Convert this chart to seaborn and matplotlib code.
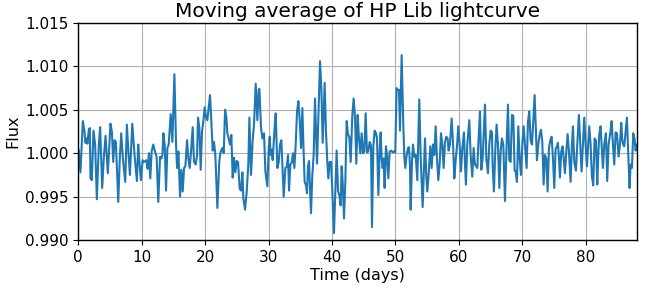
import matplotlib
matplotlib.use("Agg")
import matplotlib.pyplot as plt
import seaborn as sns
import pandas as pd

# moving-average lightcurve (time in days, relative flux)
time_days = [
    0.10, 0.37, 0.74, 1.00, 1.16, 1.32, 1.47, 1.68, 1.84, 1.95, 2.16, 2.42, 2.68, 2.95,
    3.26, 3.47, 3.79, 4.05, 4.32, 4.68, 5.10, 5.32, 5.53, 5.74, 5.95, 6.32, 6.58, 6.79,
    7.05, 7.42, 7.68, 7.95, 8.16, 8.53, 8.89, 9.26, 9.47, 9.68, 9.89, 10.16, 10.37, 10.58,
    10.74, 10.95, 11.16, 11.37, 11.58, 11.84, 12.10, 12.37, 12.63, 12.91, 13.12, 13.28,
    13.43, 13.64, 13.85, 14.06, 14.27, 14.59, 14.85, 15.17, 15.43, 15.59, 15.80, 16.06,
    16.27, 16.48, 16.69, 16.90, 17.16, 17.37, 17.58, 17.79, 18.05, 18.26, 18.53, 18.74,
    18.89, 19.10, 19.31, 19.52, 19.73, 19.94, 20.15, 20.36, 20.78, 20.99, 21.20, 21.41,
    21.62, 21.94, 22.25, 22.46, 22.73, 22.94, 23.15, 23.36, 23.51, 23.72, 23.93, 24.14,
    24.35, 24.56, 24.77, 24.98, 25.19, 25.46, 25.67, 25.88, 26.03, 26.30, 26.56, 26.82,
    26.98, 27.24, 27.50, 27.71, 27.98, 28.24, 28.45, 28.56, 28.82, 29.03, 29.29, 29.50,
    29.81, 30.02, 30.18, 30.34, 30.50, 30.65, 30.92, 31.13, 31.39, 31.60, 31.81, 32.02,
    32.39, 32.65, 32.86, 33.07, 33.23, 33.44, 33.65, 33.86, 34.07, 34.28, 34.49, 34.70,
    34.91, 35.12, 35.33, 35.49, 35.69, 35.90, 36.06, 36.22, 36.38, 36.69, 36.90, 37.11,
    37.32, 37.64, 38.11, 38.32, 38.53, 38.84, 39.05, 39.26, 39.42, 39.63, 39.84, 40.05,
    40.31, 40.58, 40.73, 40.95, 41.15, 41.36, 41.52, 41.68, 41.89, 42.10, 42.31, 42.52,
    42.73, 42.94, 43.20, 43.41, 43.62, 43.83, 44.04, 44.25, 44.46, 44.67, 44.88, 45.09,
    45.30, 45.51, 45.72, 45.93, 46.14, 46.30, 46.51, 46.72, 46.93, 47.09, 47.30, 47.51,
    47.66, 47.82, 47.98, 48.13, 48.29, 48.50, 48.66, 48.87, 49.08, 49.34, 49.55, 49.76,
    49.97, 50.18, 50.31, 50.55, 50.71, 50.97, 51.23, 51.39, 51.55, 51.76, 51.97, 52.13,
    52.28, 52.39, 52.60, 52.76, 52.97, 53.18, 53.44, 53.75, 53.96, 54.28, 54.65, 54.86,
    55.01, 55.22, 55.49, 55.70, 55.91, 56.12, 56.33, 56.54, 56.75, 56.96, 57.17, 57.38,
    57.59, 57.80, 58.01, 58.22, 58.37, 58.58, 58.85, 59.06, 59.27, 59.48, 59.69, 59.90,
    60.11, 60.32, 60.53, 60.79, 60.95, 61.10, 61.31, 61.63, 61.84, 62.10, 62.31, 62.52,
    62.73, 62.89, 63.05, 63.31, 63.52, 63.73, 64.10, 64.31, 64.57, 64.78, 64.99, 65.20,
    65.30, 65.51, 65.72, 65.93, 66.15, 66.36, 66.57, 66.77, 66.99, 67.25, 67.46, 67.72,
    67.93, 68.14, 68.35, 68.56, 68.77, 68.93, 69.14, 69.35, 69.56, 69.77, 69.98, 70.19,
    70.40, 70.66, 70.87, 71.08, 71.29, 71.50, 71.71, 71.92, 72.13, 72.29, 72.50, 72.71,
    72.92, 73.13, 73.34, 73.55, 73.76, 73.97, 74.18, 74.39, 74.60, 74.81, 75.02, 75.23,
    75.44, 75.59, 75.75, 75.91, 76.12, 76.33, 76.49, 76.70, 76.91, 77.12, 77.33, 77.59,
    77.80, 77.96, 78.17, 78.43, 78.64, 78.90, 79.11, 79.32, 79.53, 79.74, 79.95, 80.16,
    80.37, 80.53, 80.74, 80.95, 81.16, 81.37, 81.58, 81.79, 81.95, 82.10, 82.31, 82.47,
    82.68, 82.89, 83.15, 83.36, 83.57, 83.84, 84.05, 84.26, 84.47, 84.68, 84.89, 85.15,
    85.36, 85.57, 85.73, 85.88, 86.04, 86.25, 86.46, 86.67, 86.88, 87.04, 87.25, 87.46,
    87.67, 87.83, 88.00,
]
flux = [
    1.0004, 0.9978, 1.0037, 1.0025, 1.0012, 1.0017, 1.0011, 1.0027, 1.0029, 0.9971, 0.9969, 1.0026, 1.0010, 0.9947,
    1.0010, 1.0030, 0.9960, 0.9995, 1.0020, 0.9977, 1.0034, 1.0025, 0.9990, 1.0015, 1.0013, 0.9944, 0.9996, 1.0023,
    0.9994, 0.9967, 1.0033, 0.9998, 0.9975, 1.0034, 0.9998, 0.9968, 1.0010, 0.9988, 0.9969, 0.9992, 0.9990, 0.9991,
    0.9992, 0.9982, 1.0000, 0.9971, 1.0002, 1.0010, 1.0002, 0.9996, 0.9944, 0.9996, 0.9994, 0.9998,
    1.0023, 1.0010, 0.9957, 1.0006, 1.0010, 1.0045, 1.0013, 1.0091, 1.0010, 0.9983, 1.0002, 0.9950,
    0.9981, 0.9956, 0.9983, 0.9985, 1.0015, 0.9994, 0.9983, 1.0002, 1.0030, 0.9990, 0.9987, 0.9998,
    1.0041, 1.0029, 0.9981, 1.0025, 1.0037, 1.0053, 1.0041, 1.0038, 1.0067, 1.0037, 1.0003, 1.0013,
    0.9998, 0.9937, 0.9992, 1.0002, 1.0006, 1.0000, 1.0050, 1.0041, 1.0023, 1.0017, 1.0010, 1.0021,
    0.9972, 0.9995, 0.9978, 0.9991, 0.9990, 0.9959, 0.9957, 0.9978, 0.9948, 0.9935, 0.9956, 0.9988,
    1.0041, 0.9975, 1.0015, 1.0033, 1.0080, 1.0038, 1.0073, 1.0074, 1.0029, 1.0017, 1.0023, 0.9979,
    0.9962, 1.0004, 1.0019, 0.9998, 1.0004, 0.9992, 1.0025, 1.0046, 0.9983, 0.9990, 1.0010, 1.0015,
    0.9950, 0.9983, 0.9984, 0.9998, 0.9957, 0.9987, 0.9989, 1.0000, 0.9983, 1.0010, 1.0048, 1.0060,
    1.0038, 1.0006, 1.0052, 1.0010, 0.9967, 0.9963, 0.9954, 0.9985, 0.9991, 0.9931, 0.9975, 0.9998,
    1.0063, 0.9988, 1.0106, 1.0075, 1.0012, 1.0081, 1.0025, 0.9990, 0.9971, 0.9990, 0.9990, 0.9956,
    0.9908, 0.9967, 1.0003, 0.9956, 0.9952, 0.9940, 0.9985, 0.9967, 0.9925, 0.9967, 1.0037, 1.0021,
    1.0019, 0.9990, 1.0044, 1.0063, 1.0042, 0.9988, 1.0044, 1.0017, 1.0000, 1.0023, 1.0000, 1.0002,
    1.0046, 1.0001, 1.0002, 1.0013, 1.0009, 0.9915, 1.0008, 1.0026, 1.0023, 1.0017, 0.9952, 1.0002,
    1.0024, 0.9994, 0.9983, 0.9994, 0.9960, 1.0008, 0.9998, 0.9971, 1.0002, 1.0003, 1.0001, 1.0002,
    1.0001, 1.0075, 1.0073, 1.0073, 1.0026, 1.0113, 1.0033, 0.9996, 0.9983, 0.9998, 1.0006, 1.0007,
    0.9987, 0.9935, 0.9990, 1.0010, 0.9996, 0.9998, 0.9969, 1.0062, 0.9998, 0.9938, 1.0017, 0.9973,
    0.9956, 0.9975, 1.0008, 0.9983, 1.0010, 0.9998, 1.0031, 0.9994, 0.9969, 0.9988, 1.0023, 1.0010,
    0.9983, 1.0013, 1.0019, 1.0017, 1.0003, 1.0010, 1.0040, 1.0012, 0.9971, 0.9992, 1.0008, 1.0031,
    1.0010, 0.9979, 1.0006, 1.0024, 0.9987, 0.9964, 1.0010, 1.0038, 0.9998, 0.9973, 1.0006, 0.9987,
    0.9985, 0.9983, 1.0010, 1.0048, 0.9981, 0.9994, 1.0056, 0.9994, 0.9977, 1.0010, 1.0026, 1.0024,
    0.9987, 0.9956, 1.0002, 1.0033, 1.0010, 0.9960, 1.0002, 1.0017, 1.0010, 0.9945, 0.9998, 1.0056,
    0.9992, 0.9990, 1.0044, 1.0043, 0.9980, 0.9979, 0.9967, 1.0031, 0.9994, 0.9975, 1.0010, 1.0031,
    1.0010, 0.9983, 1.0036, 1.0048, 1.0015, 1.0010, 1.0037, 1.0067, 1.0025, 0.9992, 1.0010, 1.0021,
    1.0027, 1.0013, 0.9964, 0.9998, 0.9994, 0.9956, 1.0006, 1.0015, 1.0019, 0.9994, 0.9960, 1.0005,
    1.0008, 1.0012, 0.9996, 0.9972, 1.0002, 1.0008, 0.9994, 0.9977, 1.0002, 1.0022, 1.0002, 0.9967,
    1.0010, 1.0031, 0.9990, 0.9980, 1.0010, 1.0044, 1.0010, 0.9979, 1.0010, 1.0041, 1.0010, 0.9985,
    1.0010, 1.0031, 1.0010, 0.9973, 0.9963, 1.0017, 1.0015, 0.9964, 0.9998, 1.0021, 1.0031, 1.0010,
    0.9983, 1.0010, 1.0023, 0.9968, 1.0010, 1.0023, 1.0037, 1.0010, 0.9987, 1.0024, 1.0023, 0.9996,
    1.0010, 1.0035, 1.0015, 1.0010, 1.0008, 1.0024, 1.0041, 1.0002, 0.9960, 0.9987, 0.9983, 1.0023,
    1.0017, 1.0003, 1.0010,
]

x_ticks = [0, 10, 20, 30, 40, 50, 60, 70, 80]
y_ticks = [0.990, 0.995, 1.000, 1.005, 1.010, 1.015]

df = pd.DataFrame({'Time (days)': time_days, 'Flux': flux})

sns.set_style('ticks')
plt.rcParams['font.family'] = ['DejaVu Sans']
plt.rcParams['text.color'] = 'black'
plt.rcParams['axes.labelcolor'] = 'black'
plt.rcParams['xtick.color'] = 'black'
plt.rcParams['ytick.color'] = 'black'

fig = plt.figure(figsize=(6.51, 2.90), dpi=100)
ax = fig.add_axes([0.12, 0.172, 0.858, 0.749])
sns.lineplot(data=df, x='Time (days)', y='Flux', ax=ax, color='#1f77b4', linewidth=1.5)

ax.set_xlim(0, 88)
ax.set_ylim(0.990, 1.015)
ax.set_xticks(x_ticks)
ax.set_yticks(y_ticks)
ax.set_yticklabels(['%.3f' % v for v in y_ticks])
ax.tick_params(labelsize=11, length=3.5, width=0.8)
ax.set_xlabel('Time (days)', fontsize=11.5, labelpad=2)
ax.set_ylabel('Flux', fontsize=11.5, labelpad=3)
ax.set_title('Moving average of HP Lib lightcurve', fontsize=14.5, pad=4)
ax.grid(True, color='#b0b0b0', linewidth=0.8)
for s in ax.spines.values():
    s.set_color('black')
    s.set_linewidth(1.0)

fig.savefig('out.png', dpi=100)
